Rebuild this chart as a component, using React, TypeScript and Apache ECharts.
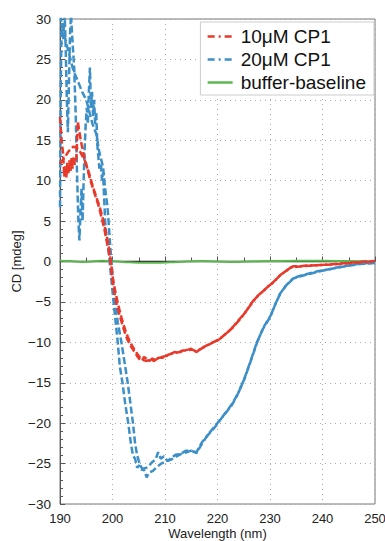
import React, { useEffect, useRef } from "react";
import * as echarts from "echarts";

const red1: [number, number][] = [
  [190, 17.9], [190.3, 15], [190.6, 13.3], [190.8, 10.5], [191.0, 11.8], [191.2, 10.4], [191.4, 12.2], [191.6, 10.8],
  [191.8, 12.5], [192.0, 11.2], [192.2, 12.8], [192.4, 11.5], [192.6, 13], [192.8, 12], [193.1, 12.5], [193.4, 17.3],
  [193.7, 16], [194.1, 14.5], [194.6, 13], [195.2, 11.5], [195.8, 10], [196.3, 9], [196.8, 8], [197.3, 7], [197.7, 6],
  [198.0, 5.2], [198.4, 4.2], [198.8, 2.8], [199.2, 1.5], [199.6, 0.1], [200.0, -2.5], [200.4, -4], [200.8, -5.3],
  [201.2, -6.3], [201.6, -7.2], [202.0, -8.1], [202.4, -8.9], [202.8, -9.6], [203.2, -10.1], [203.6, -10.6], [204.0, -11.0],
  [204.4, -11.4], [204.8, -11.8], [205.2, -12.1], [205.6, -12.3], [206.0, -11.8], [206.4, -12.0], [207.0, -12.3],
  [207.6, -12.0], [208.2, -12.2], [208.8, -11.9], [209.6, -11.9], [210.4, -11.6], [211.2, -11.4], [212.0, -11.3],
  [212.8, -11.2], [213.6, -11.0], [214.4, -10.9], [215.0, -10.8], [216.0, -11.2], [216.8, -10.8], [217.6, -10.5],
  [218.5, -10.2], [219.4, -9.9], [220.4, -9.6], [221.3, -9.1], [222.2, -8.6], [223.0, -8.1], [223.8, -7.5], [224.7, -6.8],
  [225.5, -6.1], [226.4, -5.3], [227.2, -4.6], [228.1, -4.0], [229.0, -3.5], [229.8, -3.0], [230.6, -2.6], [231.5, -2.0],
  [232.3, -1.5], [233.2, -1.1], [234.4, -0.6], [235.5, -0.6], [237, -0.5], [239, -0.45], [241.4, -0.37], [243.5, -0.25],
  [246.5, -0.1], [248, 0.0], [250, 0.05],
];

const red2: [number, number][] = [
  [190, 12.1], [190.8, 12.8], [191.6, 13.6], [192.5, 14.2], [193.2, 14.1], [193.9, 13.5], [194.7, 12.5], [195.5, 11],
  [196.3, 9.2], [197.0, 7.8], [197.6, 6.7], [198.2, 5.2], [198.8, 3.5], [199.3, 1.8], [199.7, 0], [200.1, -2.2],
  [200.5, -3.6], [200.9, -4.8], [201.3, -5.9], [201.7, -6.9], [202.1, -7.8], [202.5, -8.6], [202.9, -9.3], [203.3, -9.9],
  [203.8, -10.5], [204.3, -11.0], [204.8, -11.5], [205.3, -11.9], [205.9, -12.2], [206.5, -12.3], [207.2, -12.1],
  [207.9, -12.3], [208.6, -12.0], [209.4, -11.8], [210.2, -11.7], [211.0, -11.5], [211.8, -11.2], [212.6, -11.3],
  [213.4, -11.0], [214.2, -11.0], [215.2, -10.9], [215.9, -11.1], [216.6, -10.9], [217.4, -10.6], [218.3, -10.3],
  [219.2, -10.0], [220.2, -9.7], [221.1, -9.2], [222.0, -8.7], [222.8, -8.2], [223.6, -7.6], [224.5, -6.9], [225.3, -6.3],
  [226.2, -5.4], [227.0, -4.7], [227.9, -4.1], [228.8, -3.6], [229.6, -3.1], [230.4, -2.7], [231.3, -2.1], [232.1, -1.6],
  [233.0, -1.2], [234.0, -0.7], [235.2, -0.65], [236.8, -0.55], [238.8, -0.45], [241.0, -0.4], [243.3, -0.3],
  [246.0, -0.15], [248.2, -0.05], [250, 0.0],
];

const blue1: [number, number][] = [
  [190, 6.7], [190.15, 22], [190.3, 29.5], [190.6, 27.5], [190.9, 30.5], [191.1, 26], [191.3, 20], [191.5, 16], [191.7, 22],
  [191.9, 28], [192.1, 30.5], [192.4, 27], [192.7, 24], [193.0, 18], [193.2, 12], [193.5, 5], [193.7, 2.6], [193.9, 6],
  [194.1, 9], [194.3, 5], [194.5, 10], [194.7, 14], [194.9, 17], [195.1, 19], [195.3, 17], [195.5, 21], [195.7, 24],
  [195.9, 19], [196.1, 21], [196.3, 18], [196.5, 20], [196.7, 17], [196.9, 18.5], [197.1, 14.5], [197.3, 13], [197.5, 11.5],
  [197.8, 12], [198.0, 10], [198.2, 11], [198.4, 8], [198.6, 5], [198.8, 3.5], [199.0, 2.5], [199.3, 1], [199.6, -1],
  [199.9, -3], [200.2, -5], [200.6, -7.5], [201.0, -10], [201.4, -13], [201.9, -15], [202.4, -17.5], [203.0, -20],
  [203.5, -22.5], [203.9, -24], [204.3, -24.4], [204.7, -25.5], [205.1, -25.2], [205.5, -25.8],
  [206.0, -25.6], [206.5, -25.5], [207.0, -25.2], [207.6, -24.8], [208.2, -24.5], [208.7, -23.6], [209.2, -24.4],
  [209.8, -24.1], [210.5, -24.7], [211.2, -24.3], [212, -23.9], [213, -23.8], [214, -23.4], [215, -23.4], [216, -23.7],
  [217, -22.6], [218.2, -21.4], [219.6, -20.3], [220.7, -19.4], [221.8, -18.5], [222.9, -17.5], [224.0, -16.2],
  [225.2, -14.4], [226.4, -12.2], [227.6, -9.9], [228.8, -8.1], [230.2, -6.6], [231.2, -5.0], [232.1, -3.8], [233.2, -2.9],
  [234.6, -2.0], [236.7, -1.6], [239.1, -1.2], [241.2, -0.95], [243.5, -0.65], [245.4, -0.45], [247.3, -0.25], [250, -0.15],
];

const blue2: [number, number][] = [
  [190, 30.5], [190.5, 29], [191.2, 27], [192.0, 25], [192.6, 23.5], [193.1, 22.8], [193.6, 22], [194.2, 21], [195.0, 20],
  [195.6, 18.5], [196.2, 17], [196.9, 15.8], [197.5, 13.5], [198.2, 11.7], [198.6, 9], [199.0, 7], [199.2, 5.5],
  [199.5, 2.5], [199.8, 0], [200.1, -2.5], [200.5, -5], [201.0, -7.5], [201.7, -10], [202.3, -12.5], [202.9, -15],
  [203.4, -17.5], [203.9, -20], [204.3, -22.5], [204.7, -24], [205.2, -25.1],
  [205.7, -25.7], [206.1, -25.9], [206.5, -26.7], [207.0, -26.1], [207.7, -25.9], [208.5, -25.4], [209.3, -25.0],
  [210.3, -24.7], [211.2, -24.5], [212.2, -24.1], [213.1, -23.8], [214.1, -23.6], [215.0, -23.4], [216.0, -23.6],
  [217.0, -22.4], [218.0, -21.6], [219.5, -20.5], [220.5, -19.6], [221.6, -18.7], [222.7, -17.8], [223.8, -16.5],
  [225.0, -14.7], [226.2, -12.5], [227.4, -10.2], [228.6, -8.4], [230.0, -6.9], [231.0, -5.3], [231.9, -4.0],
  [233.0, -3.0], [234.4, -2.1], [236.5, -1.7], [238.9, -1.3], [241, -1.0], [243.3, -0.7], [245.2, -0.5], [247.1, -0.3],
  [250, -0.2],
];

const baseline: [number, number][] = [
  [190, 0.1], [192, 0.05], [194, -0.05], [196, 0.0], [198, 0.1], [200, 0.05], [202, -0.05], [205, -0.15], [208, -0.15],
  [211, -0.1], [214, 0], [217, 0.05], [220, 0], [223, -0.05], [226, 0], [230, 0.05], [235, 0.1], [240, 0.1], [245, 0.05],
  [250, 0],
];

const zeroLine: [number, number][] = [[190, 0], [250, 0]];

const RED = "#e8392b";
const BLUE = "#3d8fc8";
const GREEN = "#5bb84f";
const FONT = "Liberation Sans, Arial, sans-serif";

export default function App() {
  const ref = useRef<HTMLDivElement>(null);
  useEffect(() => {
    if (!ref.current) return;
    const chart = echarts.init(ref.current, null, { renderer: "svg" });
    const dashed = (color: string) => ({ color, width: 2.5, type: [7, 3] as any });
    const legendDash = [7, 4, 2, 4] as any;
    chart.setOption({
      animation: false,
      textStyle: { fontFamily: FONT },
      grid: {
        left: 60, right: 10, top: 19, bottom: 37,
        show: true, borderColor: "#777", borderWidth: 1,
        outerBoundsMode: "none", containLabel: false,
      },
      legend: {
        orient: "vertical",
        right: 11,
        top: 22,
        data: [
          { name: "10μM CP1", itemStyle: { opacity: 0 }, lineStyle: { type: legendDash, width: 2.5, color: RED } },
          { name: "20μM CP1", itemStyle: { opacity: 0 }, lineStyle: { type: legendDash, width: 2.5, color: BLUE } },
          { name: "buffer-baseline", itemStyle: { opacity: 0 }, lineStyle: { type: "solid", width: 2.5, color: GREEN } },
        ],
        backgroundColor: "#fff",
        borderColor: "#ccc",
        borderWidth: 1,
        borderRadius: 0,
        padding: [5, 8, 3, 6],
        itemGap: 4,
        itemWidth: 25,
        itemHeight: 14,
        textStyle: { fontSize: 19, color: "#111", fontFamily: FONT, padding: [0, 0, 0, 3] },
      },
      xAxis: {
        type: "value",
        min: 190,
        max: 250,
        interval: 10,
        name: "Wavelength (nm)",
        nameLocation: "middle",
        nameGap: 22,
        nameMoveOverlap: false,
        nameTextStyle: { fontSize: 13, color: "#222", lineHeight: 14 },
        axisLine: { lineStyle: { color: "#555" } },
        axisTick: { inside: true, length: 5, lineStyle: { color: "#555" } },
        minorTick: { show: true, splitNumber: 2, length: 4, lineStyle: { color: "#555" } },
        axisLabel: { fontSize: 13, color: "#222", margin: 8 },
        splitLine: { show: true, lineStyle: { type: [1, 4], color: "#aaa" } },
      },
      yAxis: {
        type: "value",
        min: -30,
        max: 30,
        interval: 5,
        name: "CD [mdeg]",
        nameLocation: "middle",
        nameGap: 37,
        nameMoveOverlap: false,
        nameTextStyle: { fontSize: 13, color: "#222" },
        axisLine: { show: true, lineStyle: { color: "#555" } },
        axisTick: { show: true, inside: true, length: 5, lineStyle: { color: "#555" } },
        minorTick: { show: true, splitNumber: 5, length: 3, lineStyle: { color: "#555" } },
        axisLabel: {
          fontSize: 13.5,
          color: "#222",
          margin: 9,
          formatter: (v: number) => (v < 0 ? "\u2212" + Math.abs(v) : String(v)),
        },
        splitLine: { show: true, lineStyle: { type: [1, 4], color: "#aaa" } },
      },
      series: [
        { name: "zero", type: "line", data: zeroLine, symbol: "none", lineStyle: { color: "#222", width: 1.5 }, z: 1 },
        { name: "buffer-baseline", type: "line", data: baseline, symbol: "none", smooth: true, lineStyle: { color: GREEN, width: 2 }, itemStyle: { color: GREEN }, z: 2 },
        { name: "20μM CP1", type: "line", data: blue1, symbol: "none", clip: true, lineStyle: dashed(BLUE), itemStyle: { color: BLUE }, z: 3 },
        { name: "20μM CP1", type: "line", data: blue2, symbol: "none", clip: true, lineStyle: dashed(BLUE), itemStyle: { color: BLUE }, z: 3 },
        { name: "10μM CP1", type: "line", data: red1, symbol: "none", clip: true, lineStyle: dashed(RED), itemStyle: { color: RED }, z: 4 },
        { name: "10μM CP1", type: "line", data: red2, symbol: "none", clip: true, lineStyle: dashed(RED), itemStyle: { color: RED }, z: 4 },
      ],
    });
    return () => chart.dispose();
  }, []);
  return <div ref={ref} style={{ width: 385, height: 541, position: "absolute", left: 0, top: 0 }} />;
}
